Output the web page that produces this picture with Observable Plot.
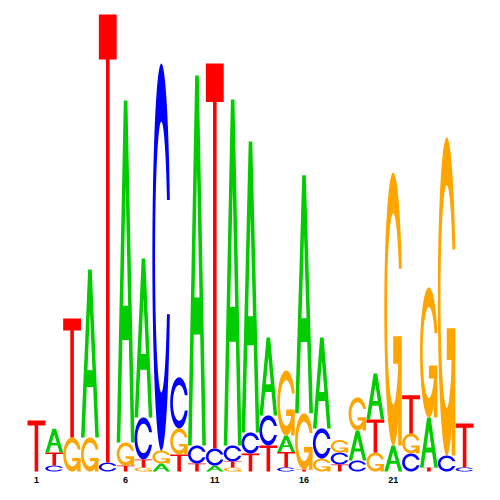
<!DOCTYPE html>
<html>
<head>
<meta charset="utf-8">
<script src="https://cdn.jsdelivr.net/npm/d3@7"></script>
<script src="https://cdn.jsdelivr.net/npm/@observablehq/plot@0.6"></script>
<style>
  html, body { margin: 0; padding: 0; background: #fff; }
  #chart { width: 500px; height: 500px; }
</style>
</head>
<body>
<div id="chart"></div>
<script>
// ---- data (information content in bits, per position) ----
const positions = d3.range(1, 26);
const letters = ["A", "C", "G", "T"];
const letterColors = ["#00CC00", "#0000FF", "#FFA500", "#FF0000"];
const heightA = [0, 0.105, 0, 0.737, 0, 1.5, 0.697, 0.035, 0, 1.623, 0.026, 1.518, 1.276, 0.342, 0.072, 1.044, 0.399, 0, 0.132, 0.202, 0.114, 0, 0.219, 0, 0];
const heightC = [0, 0.026, 0, 0, 0.039, 0, 0.184, 1.697, 0.224, 0.079, 0.075, 0.070, 0.092, 0.132, 0.018, 0, 0.132, 0.052, 0.048, 0, 0, 0.079, 0, 0.070, 0.018];
const heightG = [0, 0, 0.149, 0.149, 0, 0.101, 0.018, 0.057, 0.114, 0, 0, 0.018, 0, 0, 0.285, 0.246, 0.057, 0.055, 0.145, 0.083, 1.197, 0.088, 0.570, 1.395, 0];
const heightT = [0.224, 0.057, 0.522, 0, 1.965, 0.026, 0.035, 0, 0.075, 0.035, 1.689, 0.026, 0.079, 0.114, 0.068, 0.009, 0, 0.031, 0, 0.145, 0, 0.167, 0.018, 0, 0.193];
const tickLabels = [1, 6, 11, 16, 21];

// ---- letter glyph outlines in a unit box (seqLogo-style polygons) ----
function ringOutline() {
  const n = 100;
  const a1 = d3.range(n).map(i => 0.3 + Math.PI / 2 + (Math.PI - (0.3 + Math.PI / 2)) * i / (n - 1));
  const a2 = d3.range(n).map(i => Math.PI + (0.5 * Math.PI) * i / (n - 1));
  const xl1 = a1.map(a => 0.5 + 0.5 * Math.sin(a)), yl1 = a1.map(a => 0.5 + 0.5 * Math.cos(a));
  const xl2 = a2.map(a => 0.5 + 0.5 * Math.sin(a)), yl2 = a2.map(a => 0.5 + 0.5 * Math.cos(a));
  const xl = xl1.concat(xl2), yl = yl1.concat(yl2);
  const xo = xl.concat(xl.slice().reverse());
  const yo = yl.concat(yl.slice().reverse().map(v => 1 - v));
  const maxY = Math.max(...yl1);
  let xi1 = a1.map(a => 0.5 + 0.35 * Math.sin(a)), yi1 = a1.map(a => 0.5 + 0.35 * Math.cos(a));
  const keep = yi1.map(v => v <= maxY);
  xi1 = xi1.filter((_, i) => keep[i]); yi1 = yi1.filter((_, i) => keep[i]);
  yi1[0] = maxY;
  const xi2 = a2.map(a => 0.5 + 0.35 * Math.sin(a)), yi2 = a2.map(a => 0.5 + 0.35 * Math.cos(a));
  const xi = xi1.concat(xi2), yi = yi1.concat(yi2);
  const x1 = xi.concat(xi.slice().reverse());
  const y1 = yi.concat(yi.slice().reverse().map(v => 1 - v));
  const X = xo.concat(x1.slice().reverse()), Y = yo.concat(y1.slice().reverse());
  return {pts: X.map((x, i) => [x, Y[i]]), r1: Math.max(...xl1)};
}
const ring = ringOutline();
const glyphs = {
  A: [
    {white: false, pts: [[0, 0], [0.4, 1], [0.6, 1], [1, 0], [0.8, 0], [0.68, 0.3], [0.32, 0.3], [0.2, 0], [0, 0]]},
    {white: true, pts: [[0.36, 0.4], [0.5, 0.75], [0.64, 0.4], [0.36, 0.4]]}
  ],
  C: [{white: false, pts: ring.pts}],
  G: [
    {white: false, pts: ring.pts},
    {white: false, pts: [[ring.r1, 0.4], [0.5, 0.4], [0.5, 0.3], [ring.r1 - 0.2, 0.3], [ring.r1 - 0.2, 0], [ring.r1, 0], [ring.r1, 0.4]]}
  ],
  T: [{white: false, pts: [[0, 1], [1, 1], [1, 0.9], [0.6, 0.9], [0.6, 0], [0.4, 0], [0.4, 0.9], [0, 0.9], [0, 1]]}]
};

// ---- stack letters per position (smallest at bottom) and build outlines ----
const heights = {A: heightA, C: heightC, G: heightG, T: heightT};
const colorOf = Object.fromEntries(letters.map((l, i) => [l, letterColors[i]]));
const outline = [];
let k = 0;
positions.forEach((p, i) => {
  const col = letters.map(l => ({letter: l, h: heights[l][i]})).filter(d => d.h > 0);
  col.sort((a, b) => a.h - b.h);
  let acc = 0;
  for (const d of col) {
    glyphs[d.letter].forEach((part, j) => {
      const z = `${k}-${j}`;
      const color = part.white ? "white" : colorOf[d.letter];
      for (const [u, v] of part.pts) {
        outline.push({x: p - 0.5 + u, y: acc + v * d.h, z, color});
      }
    });
    acc += d.h;
    k++;
  }
});

const plot = Plot.plot({
  width: 500,
  height: 500,
  marginTop: 15,
  marginBottom: 29,
  marginLeft: 27,
  marginRight: 27,
  style: {fontFamily: "'Liberation Sans', Arial, Helvetica, sans-serif", background: "#fff"},
  x: {domain: [0.5, 25.5], label: null},
  y: {domain: [0, 2], axis: null},
  color: {type: "identity"},
  marks: [
    Plot.line(outline, {x: "x", y: "y", z: "z", fill: "color", stroke: "none"}),
    Plot.axisX({ticks: tickLabels, tickSize: 0, tickPadding: 5, fontSize: 9, fontWeight: "bold", label: null, tickFormat: d => String(d)})
  ]
});
document.getElementById("chart").appendChild(plot);
</script>
</body>
</html>
